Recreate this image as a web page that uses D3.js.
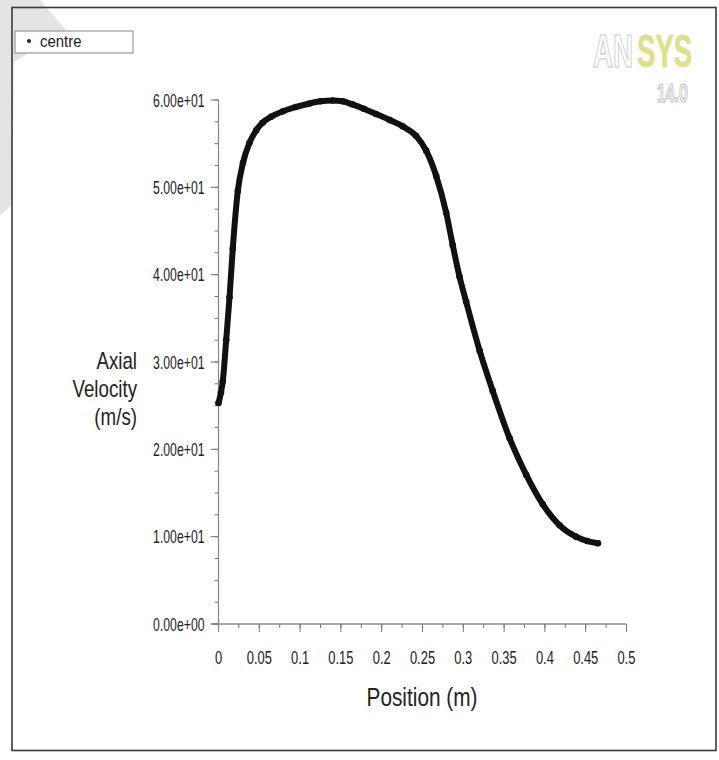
<!DOCTYPE html>
<html>
<head>
<meta charset="utf-8">
<script src="https://cdn.jsdelivr.net/npm/d3@7"></script>
<style>
  html, body { margin: 0; padding: 0; background: #fff; }
  svg { display: block; }
  text { font-family: "Liberation Sans Narrow", "Liberation Sans", Arial, sans-serif; }
</style>
</head>
<body>
<svg id="chart" width="719" height="760"></svg>
<script>
// ---- data ----
const positions = [0, 0.003, 0.0053, 0.0094, 0.0135, 0.0175, 0.0237, 0.030, 0.038, 0.046, 0.054, 0.065,
  0.079, 0.095, 0.1115, 0.125, 0.14, 0.152, 0.164, 0.178, 0.193, 0.21, 0.2255, 0.242, 0.2545, 0.2668,
  0.279, 0.287, 0.2953, 0.3035, 0.32, 0.336, 0.3566, 0.377, 0.3974, 0.418, 0.438, 0.452, 0.465];
const axialVelocity = [25.3, 26.5, 27.8, 32.5, 37.4, 43.0, 49.6, 52.8, 55.1, 56.5, 57.4, 58.1,
  58.7, 59.2, 59.6, 59.85, 59.95, 59.85, 59.5, 59.0, 58.4, 57.7, 57.0, 55.9, 54.2, 51.3,
  47.1, 43.4, 39.8, 36.9, 31.3, 26.7, 21.3, 17.1, 13.7, 11.3, 10.0, 9.5, 9.25];
const xTickValues = [0, 0.05, 0.1, 0.15, 0.2, 0.25, 0.3, 0.35, 0.4, 0.45, 0.5];
const xTickLabels = ["0", "0.05", "0.1", "0.15", "0.2", "0.25", "0.3", "0.35", "0.4", "0.45", "0.5"];
const yTickValues = [0, 10, 20, 30, 40, 50, 60];
const yTickLabels = ["0.00e+00", "1.00e+01", "2.00e+01", "3.00e+01", "4.00e+01", "5.00e+01", "6.00e+01"];
const seriesName = "centre";
const xTitle = "Position (m)";
const yTitleLines = ["Axial", "Velocity", "(m/s)"];

const svg = d3.select("#chart");

function squeeze(sel, f) {
  sel.each(function () {
    const L = this.getComputedTextLength();
    d3.select(this).attr("textLength", L * f).attr("lengthAdjust", "spacingAndGlyphs");
  });
}

// watermark corner shape
svg.append("polygon")
  .attr("points", "0,0 40,0 66,30 14,62 12,205 0,215")
  .attr("fill", "#e4e4e4");

// frame
svg.append("rect")
  .attr("x", 12).attr("y", 7.5).attr("width", 704).attr("height", 743)
  .attr("fill", "none").attr("stroke", "#3a3a3a").attr("stroke-width", 1.6);

// scales
const x = d3.scaleLinear().domain([0, 0.5]).range([218.5, 626.5]);
const y = d3.scaleLinear().domain([0, 60]).range([624, 100]);

// axes
const axisColor = "#777";
const xMinor = d3.range(0, 0.5001, 0.025);
const yMinor = d3.range(0, 60.001, 2.5);

const gx = svg.append("g").attr("transform", `translate(0,${y(0)})`);
gx.append("line").attr("x1", x(0) - 7).attr("x2", x(0.5)).attr("stroke", "#555").attr("stroke-width", 1.2);
gx.selectAll("line.minor").data(xMinor).join("line").attr("class", "minor")
  .attr("x1", d => x(d)).attr("x2", d => x(d)).attr("y1", 0).attr("y2", 4)
  .attr("stroke", axisColor).attr("stroke-width", 1);
gx.selectAll("line.major").data(xTickValues).join("line").attr("class", "major")
  .attr("x1", d => x(d)).attr("x2", d => x(d)).attr("y1", 0).attr("y2", 8)
  .attr("stroke", axisColor).attr("stroke-width", 1);
const xl = gx.selectAll("text").data(xTickValues).join("text")
  .attr("x", d => x(d)).attr("y", 40)
  .attr("text-anchor", "middle").attr("font-size", 19).attr("fill", "#222")
  .text((d, i) => xTickLabels[i]);
squeeze(xl, 0.68);

const gy = svg.append("g").attr("transform", `translate(${x(0)},0)`);
gy.append("line").attr("y1", y(60)).attr("y2", y(0) + 8).attr("stroke", "#888").attr("stroke-width", 1.2);
gy.selectAll("line.minor").data(yMinor).join("line").attr("class", "minor")
  .attr("y1", d => y(d)).attr("y2", d => y(d)).attr("x1", 0).attr("x2", -4)
  .attr("stroke", axisColor).attr("stroke-width", 1);
gy.selectAll("line.major").data(yTickValues).join("line").attr("class", "major")
  .attr("y1", d => y(d)).attr("y2", d => y(d)).attr("x1", 0).attr("x2", -8)
  .attr("stroke", axisColor).attr("stroke-width", 1);
const yl = gy.selectAll("text").data(yTickValues).join("text")
  .attr("x", -14).attr("y", d => y(d) + 6.5)
  .attr("text-anchor", "end").attr("font-size", 18).attr("fill", "#222")
  .text((d, i) => yTickLabels[i]);
squeeze(yl, 0.68);

// axis titles
const xt = svg.append("text").attr("x", 422).attr("y", 706)
  .attr("text-anchor", "middle").attr("font-size", 26).attr("fill", "#222").text(xTitle);
squeeze(xt, 0.8);

const yt = svg.selectAll("text.ytitle").data(yTitleLines).join("text").attr("class", "ytitle")
  .attr("x", 137).attr("y", (d, i) => 369 + i * 28)
  .attr("text-anchor", "end").attr("font-size", 24).attr("fill", "#222").text(d => d);
squeeze(yt, 0.78);

// series
const pts = positions.map((p, i) => [p, axialVelocity[i]]);
svg.append("path").datum(pts)
  .attr("fill", "none").attr("stroke", "#111").attr("stroke-width", 6)
  .attr("stroke-linejoin", "round").attr("stroke-linecap", "round")
  .attr("d", d3.line().x(d => x(d[0])).y(d => y(d[1])).curve(d3.curveMonotoneX));
svg.selectAll("circle.pt").data(pts).join("circle").attr("class", "pt")
  .attr("cx", d => x(d[0])).attr("cy", d => y(d[1])).attr("r", 3.3).attr("fill", "#111");

// legend
svg.append("rect").attr("x", 15).attr("y", 31).attr("width", 118).attr("height", 22)
  .attr("fill", "#fff").attr("stroke", "#9a9a9a").attr("stroke-width", 1.2);
svg.append("circle").attr("cx", 29).attr("cy", 41).attr("r", 2).attr("fill", "#222");
const lt = svg.append("text").attr("x", 40).attr("y", 47).attr("font-size", 17).attr("fill", "#222").text(seriesName);
squeeze(lt, 0.88);

// ANSYS logo (condensed with a transform)
const logo = svg.append("g").attr("font-family", "Liberation Sans, Arial, sans-serif").attr("font-weight", "bold");
logo.append("text").attr("transform", "translate(593,67) scale(0.6,1)").attr("font-size", 46)
  .attr("fill", "#fff").attr("stroke", "#c8c8c8").attr("stroke-width", 1.2).text("AN");
logo.append("text").attr("transform", "translate(637,67) scale(0.6,1)").attr("font-size", 46)
  .attr("fill", "#dfe08a").attr("stroke", "#e2e2a8").attr("stroke-width", 1).text("SYS");
logo.append("text").attr("transform", "translate(688,102) scale(0.62,1)").attr("font-size", 26)
  .attr("text-anchor", "end")
  .attr("fill", "#eee").attr("stroke", "#c4c4c4").attr("stroke-width", 1).text("14.0");
</script>
</body>
</html>
